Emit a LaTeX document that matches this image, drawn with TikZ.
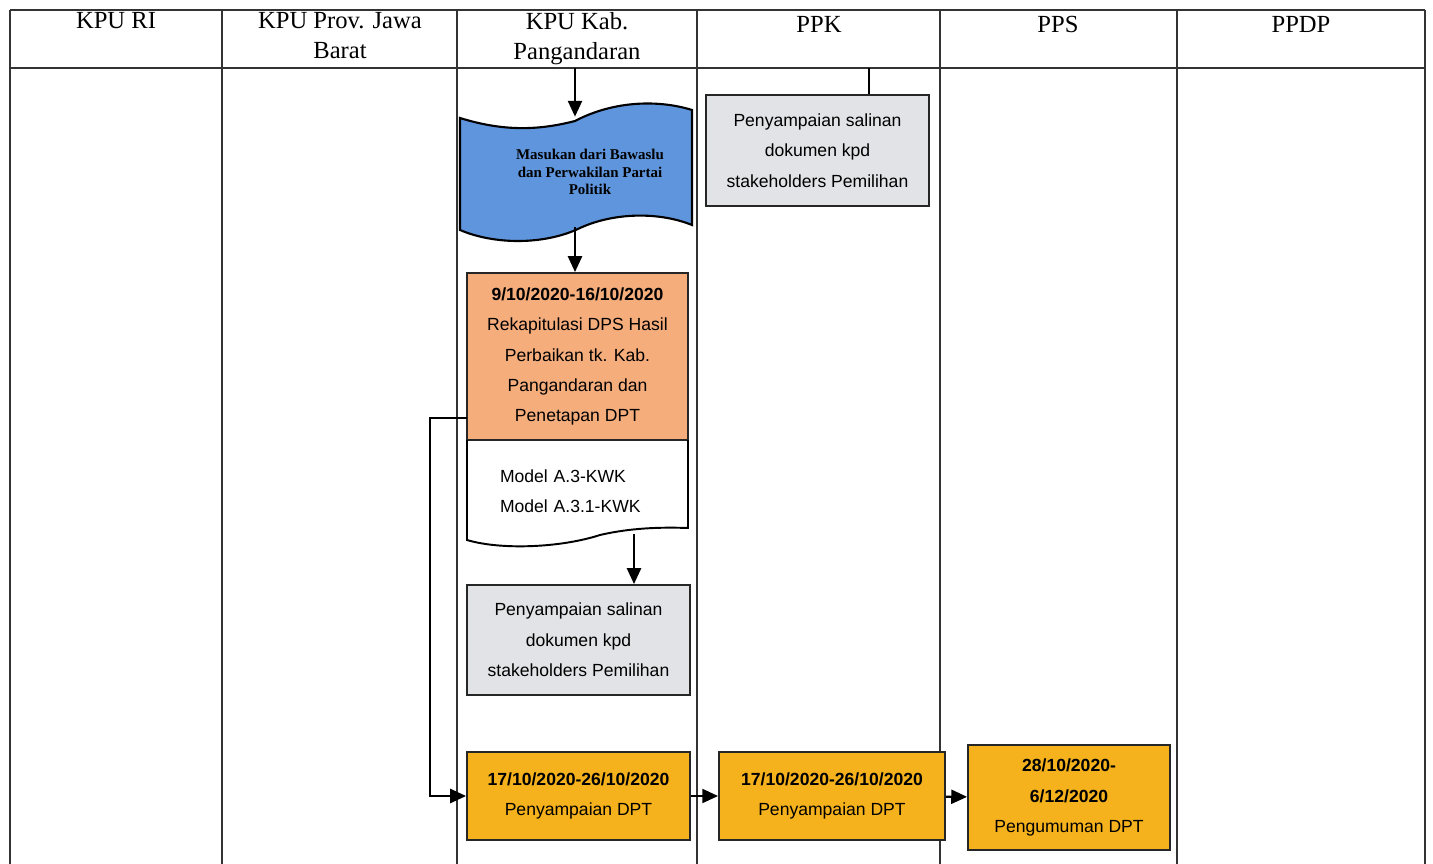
\documentclass[tikz,border=0pt]{standalone}
\usepackage{fontspec}
\setmainfont{Liberation Serif}
\setsansfont{Liberation Sans}
\usetikzlibrary{arrows.meta}
\definecolor{flagblue}{HTML}{5F95DC}
\definecolor{rekaporange}{HTML}{F5AD7C}
\definecolor{sharegrey}{HTML}{E1E3E6}
\definecolor{dptyellow}{HTML}{F5B21C}

\begin{document}
\begin{tikzpicture}[x=0.02cm,y=-0.02cm,
  every node/.style={font=\sffamily\fontsize{10}{17.3}\selectfont,align=center,inner sep=0pt},
  head/.style={font=\rmfamily\fontsize{14}{17}\selectfont,anchor=north},
  stepbox/.style={draw=black!85,line width=1.1pt},
  arr/.style={line width=1.2pt,-{Triangle[length=9pt,width=8pt]}},
  grid/.style={line width=0.8pt,black!80}]
\useasboundingbox (0,0) rectangle (1433,864);

% lanes
\draw[grid] (10,10) -- (1425,10);
\draw[grid] (10,68) -- (1425,68);
\foreach \x in {10,222,457,697,940,1177,1425}
  \draw[grid] (\x,10) -- (\x,880);

\node[head] (kpuri) at (116,12) {KPU RI};
\node[head] (prov) at (340,12) {KPU Prov. Jawa\\Barat};
\node[head] (kab) at (577,12) {KPU Kab.\\Pangandaran};
\node[head] (ppk) at (819,16) {PPK};
\node[head] (pps) at (1058,16) {PPS};
\node[head] (ppdp) at (1301,16) {PPDP};

% flag
\draw[fill=flagblue,line width=1.2pt]
  (460,118) .. controls (505,132) and (540,130) .. (575,121)
  .. controls (615,100) and (660,100) .. (692,110) -- (692,225)
  .. controls (660,212) and (615,212) .. (580,228)
  .. controls (545,245) and (495,245) .. (460,230) -- cycle;
\node[font=\rmfamily\bfseries\fontsize{8.5}{9.8}\selectfont,
  minimum width=4.64cm,minimum height=2.2cm] (flag) at (590,172)
  {Masukan dari Bawaslu\\dan Perwakilan Partai\\Politik};

\node[stepbox,fill=rekaporange,minimum width=4.42cm,minimum height=3.34cm] (rekap) at (577.5,356.5)
  {\textbf{9/10/2020-16/10/2020}\\Rekapitulasi DPS Hasil\\Perbaikan tk. Kab.\\Pangandaran dan\\Penetapan DPT};

% document
\draw[line width=1.1pt] (467,440) -- (467,540)
  .. controls (500,550) and (560,548) .. (600,535)
  .. controls (630,528) and (660,527) .. (688,528) -- (688,440);
\node[text width=3.1cm,align=left] (doc) at (577.5,491) {Model A.3-KWK\\Model A.3.1-KWK};

\node[stepbox,fill=sharegrey,minimum width=4.46cm,minimum height=2.2cm] (share) at (578.5,640)
  {Penyampaian salinan\\dokumen kpd\\stakeholders Pemilihan};
\node[stepbox,fill=sharegrey,minimum width=4.46cm,minimum height=2.22cm] (ppkshare) at (817.5,150.5)
  {Penyampaian salinan\\dokumen kpd\\stakeholders Pemilihan};

\node[stepbox,fill=dptyellow,minimum width=4.46cm,minimum height=1.76cm] (kabdpt) at (578.5,796)
  {\textbf{17/10/2020-26/10/2020}\\Penyampaian DPT};
\node[stepbox,fill=dptyellow,minimum width=4.52cm,minimum height=1.76cm] (ppkdpt) at (832,796)
  {\textbf{17/10/2020-26/10/2020}\\Penyampaian DPT};
\node[stepbox,fill=dptyellow,minimum width=4.04cm,minimum height=2.1cm] (ppsdpt) at (1069,797.5)
  {\textbf{28/10/2020-}\\\textbf{6/12/2020}\\Pengumuman DPT};

\coordinate (kabtop) at (575,68);
\coordinate (ppktop) at (869,68);
\coordinate (docout) at (634,534);
\coordinate (loopout) at (467,418);

\draw[arr] (kabtop) -- (kabtop |- flag.north);
\draw[arr] (flag.south -| kabtop) -- (kabtop |- rekap.north);
\draw[arr] (docout) -- (docout |- share.north);
\draw[line width=1.1pt] (ppktop) -- (ppktop |- ppkshare.north);
\draw[arr] (loopout) -- (430,418) |- (kabdpt.west);
\draw[arr] (kabdpt) -- (ppkdpt);
\draw[arr] (ppkdpt) -- (ppsdpt);
\end{tikzpicture}
\end{document}
